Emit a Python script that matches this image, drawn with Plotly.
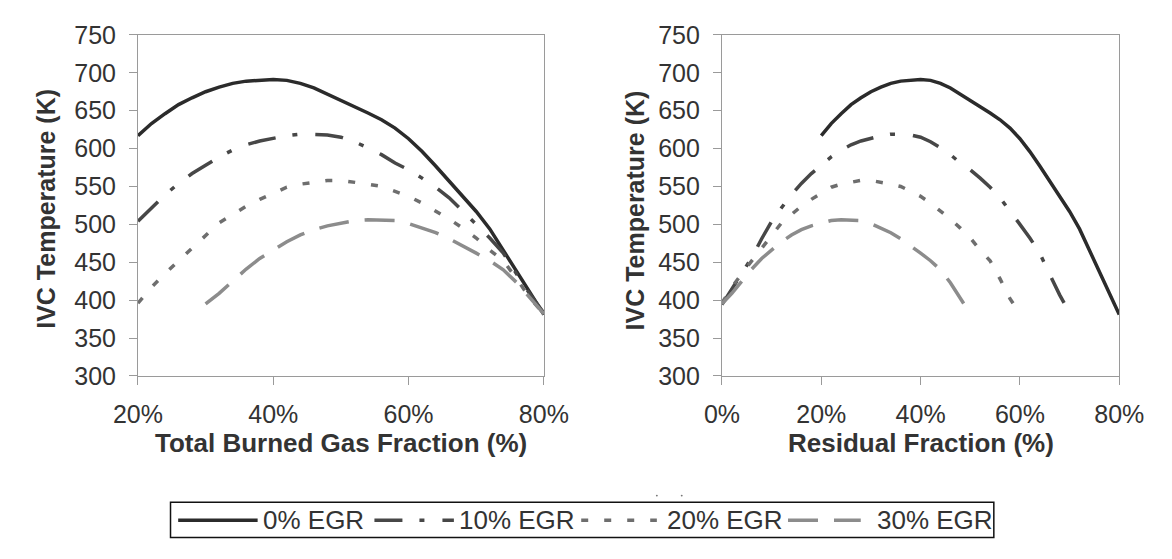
import plotly.graph_objects as go

W, H = 1172, 559

# x grids (percent)
burned_gas_pct = [20, 22, 24, 26, 28, 30, 32, 34, 36, 38, 40, 42, 44, 46, 48, 50,
                  52, 54, 56, 58, 60, 62, 64, 66, 68, 70, 72, 74, 76, 78, 80]
residual_pct = [0, 2, 4, 6, 8, 10, 12, 14, 16, 18, 20, 22, 24, 26, 28, 30, 32, 34,
                36, 38, 40, 42, 44, 46, 48, 50, 52, 54, 56, 58, 60, 62, 64, 66, 68,
                70, 72, 74, 76, 78, 80]

# IVC temperature (K)
temp_egr0 = [617, 633, 646, 658, 667, 675, 681, 686, 689, 690.5, 691, 690, 686, 680,
             672, 663, 656, 647, 638, 627, 613, 596, 577, 557, 537, 517, 494, 466,
             437, 409, 381]                       # residual 20..80
temp_egr10 = [394, 414, 435, 456, 481, 504, 522, 539, 554, 567, 578, 589, 598, 605,
              610, 614, 617, 619, 619, 618, 615, 609, 601, 592, 581, 572, 561, 549,
              535, 518, 500, 482, 462, 434, 407, 383]   # residual 0..70
temp_egr20 = [396, 417, 435, 452, 469, 486, 502, 513, 524, 533, 541, 549, 553, 556,
              558, 558, 556, 553, 550, 544, 537, 528, 518, 507, 495, 482, 466, 452,
              428, 402, 382]                      # residual 0..60
temp_egr30 = [395, 409, 425, 441, 455, 466, 477, 486, 493, 498, 502, 505, 506, 506,
              505, 501, 495, 489, 481, 472, 462, 452, 440, 423, 403, 382]  # residual 0..50

series_names = ["0% EGR", "10% EGR", "20% EGR", "30% EGR"]
colors = ["#2b2b2b", "#474747", "#6e6e6e", "#8c8c8c"]
dashes = ["solid", "28px,17px,5px,18px", "7px,16px", "30px,16px"]

left_x = [burned_gas_pct, burned_gas_pct, burned_gas_pct, burned_gas_pct[5:]]
left_y = [temp_egr0, temp_egr10[5:], temp_egr20, temp_egr30]
right_x = [residual_pct[10:], residual_pct[:36], residual_pct[:31], residual_pct[:26]]
right_y = [temp_egr0, temp_egr10, temp_egr20, temp_egr30]

FONT = "Liberation Sans, Arial, sans-serif"
TXT = "#333333"
AXC = "#9a9a9a"

fig = go.Figure()
for i in range(4):
    fig.add_trace(go.Scatter(x=left_x[i], y=left_y[i], mode="lines", name=series_names[i],
                             line=dict(color=colors[i], width=3.5, dash=dashes[i]),
                             xaxis="x", yaxis="y", showlegend=False))
for i in range(4):
    fig.add_trace(go.Scatter(x=right_x[i], y=right_y[i], mode="lines", name=series_names[i],
                             line=dict(color=colors[i], width=3.5, dash=dashes[i]),
                             xaxis="x2", yaxis="y2", showlegend=False))


def px_x(p):
    return p / W


def px_y(p):
    return 1 - p / H


axis_common = dict(showline=True, linecolor=AXC, linewidth=1, mirror=True,
                   ticks="outside", ticklen=8, tickwidth=1, tickcolor=AXC,
                   showgrid=False, zeroline=False,
                   tickfont=dict(family=FONT, size=25, color=TXT))

y_dom = [px_y(381), px_y(22)]
fig.update_layout(
    width=W, height=H, autosize=False,
    margin=dict(l=0, r=0, t=0, b=0),
    paper_bgcolor="white", plot_bgcolor="white",
    xaxis=dict(domain=[px_x(118), px_x(542)], range=[20, 80], dtick=20, tick0=0,
               ticksuffix="%", anchor="y", ticklabelstandoff=8, **axis_common),
    yaxis=dict(domain=y_dom, range=[300, 750], dtick=50, anchor="x",
               ticklabelstandoff=8, **axis_common),
    xaxis2=dict(domain=[px_x(728), px_x(1143)], range=[0, 80], dtick=20, tick0=0,
                ticksuffix="%", anchor="y2", ticklabelstandoff=8, **axis_common),
    yaxis2=dict(domain=y_dom, range=[300, 750], dtick=50, anchor="x2",
                ticklabelstandoff=8, **axis_common),
)

xtitle_font = dict(family=FONT, size=26, color=TXT)
ytitle_font = dict(family=FONT, size=25, color=TXT)
annotations = [
    dict(text="<b>Total Burned Gas Fraction (%)</b>", x=px_x(330), y=px_y(452),
         xref="paper", yref="paper", showarrow=False, font=xtitle_font,
         xanchor="center", yanchor="middle"),
    dict(text="<b>Residual Fraction (%)</b>", x=px_x(936), y=px_y(452),
         xref="paper", yref="paper", showarrow=False, font=xtitle_font,
         xanchor="center", yanchor="middle"),
    dict(text="<b>IVC Temperature (K)</b>", x=px_x(22), y=px_y(205), textangle=-90,
         xref="paper", yref="paper", showarrow=False, font=ytitle_font,
         xanchor="center", yanchor="middle"),
    dict(text="<b>IVC Temperature (K)</b>", x=px_x(637), y=px_y(207), textangle=-90,
         xref="paper", yref="paper", showarrow=False, font=ytitle_font,
         xanchor="center", yanchor="middle"),
]

# legend drawn as a boxed row of line samples and labels
legend_font = dict(family=FONT, size=26, color=TXT)
sample_spans = [(160, 243), (365, 448), (581, 660), (797, 873)]
label_x = [246, 451, 668, 888]
leg_y = 533
shapes = [dict(type="rect", xref="paper", yref="paper",
               x0=px_x(152), x1=px_x(1012), y0=px_y(551), y1=px_y(514),
               line=dict(color="#111111", width=1.5), fillcolor="rgba(0,0,0,0)")]
for i in range(4):
    x0, x1 = sample_spans[i]
    shapes.append(dict(type="line", xref="paper", yref="paper",
                       x0=px_x(x0), x1=px_x(x1), y0=px_y(leg_y), y1=px_y(leg_y),
                       line=dict(color=colors[i], width=3.5, dash=dashes[i])))
    annotations.append(dict(text=series_names[i], x=px_x(label_x[i]), y=px_y(leg_y),
                            xref="paper", yref="paper", showarrow=False,
                            font=legend_font, xanchor="left", yanchor="middle"))

# two stray specks above the legend frame
for sx in (660, 686):
    shapes.append(dict(type="circle", xref="paper", yref="paper",
                       x0=px_x(sx - 1), x1=px_x(sx + 1), y0=px_y(508), y1=px_y(506),
                       line=dict(width=0), fillcolor="#777777"))

fig.update_layout(annotations=annotations, shapes=shapes)
fig.write_html("out.html")
